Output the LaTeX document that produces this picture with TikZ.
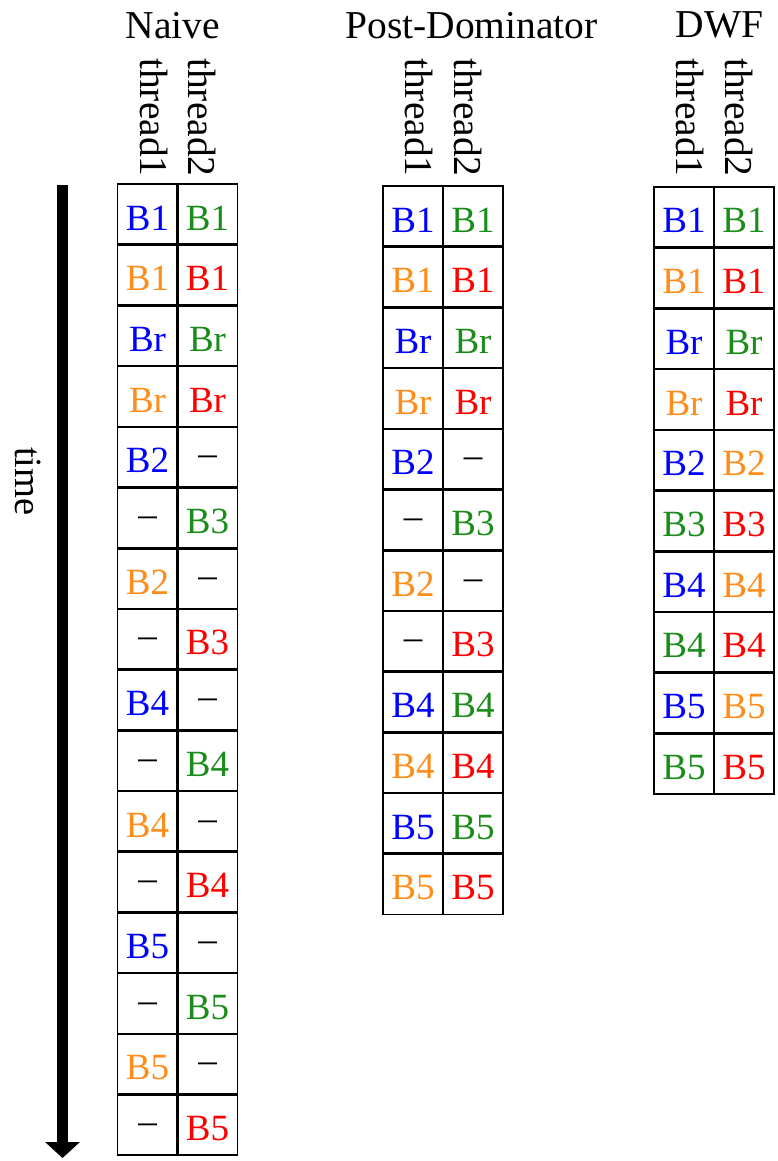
\documentclass[tikz,border=0pt]{standalone}
\usepackage{fontspec}
\setmainfont{Liberation Serif}
\usetikzlibrary{arrows.meta}
\definecolor{tblue}{RGB}{0,0,255}
\definecolor{tgreen}{RGB}{25,140,25}
\definecolor{torange}{RGB}{255,140,25}
\definecolor{tred}{RGB}{255,0,0}
\definecolor{tblack}{RGB}{0,0,0}
\newcommand\rowh{60.7}
% #1 name, #2 x0, #3 y0, #4 number of rows, #5 list
\newcommand\mytable[5]{%
  \foreach [count=\i] \ca/\ta/\cc/\tb in {#5} {
    \ifx\ta\dashmark
      \node[dashtxt] (#1-\i-1) at (#2+30, #3+\i*\rowh-\rowh+39) {\textendash};
    \else
      \node[celltxt, text=\ca] (#1-\i-1) at (#2+30, #3+\i*\rowh-\rowh+46) {\ta};
    \fi
    \ifx\tb\dashmark
      \node[dashtxt] (#1-\i-2) at (#2+90, #3+\i*\rowh-\rowh+39) {\textendash};
    \else
      \node[celltxt, text=\cc] (#1-\i-2) at (#2+90, #3+\i*\rowh-\rowh+46) {\tb};
    \fi
  }
  \pgfmathsetmacro\nlast{#4-1}
  \foreach \k in {1,...,\nlast} {
    \draw[gridline] (#2, #3+\k*\rowh) -- (#2+120, #3+\k*\rowh);
  }
  \draw[gridline] (#2+60, #3) -- (#2+60, #3+#4*\rowh);
  \draw[frameline] (#2, #3) rectangle (#2+120, #3+#4*\rowh);
}
\def\dashmark{-}
\begin{document}
\begin{tikzpicture}[x=1pt, y=-1pt, font=\fontsize{37}{44}\selectfont,
  celltxt/.style={anchor=base, inner sep=0pt},
  dashtxt/.style={anchor=base, inner sep=0pt, text=tblack},
  hdr/.style={anchor=base, inner sep=0pt, font=\fontsize{39.5}{46}\selectfont},
  thr/.style={rotate=-90, anchor=base west, inner sep=0pt, font=\fontsize{39.5}{46}\selectfont},
  gridline/.style={line width=2.6pt},
  frameline/.style={line width=1.8pt},
  timearrow/.style={line width=11pt, -{Triangle[width=34pt,length=16pt]}}]
\useasboundingbox (0,0) rectangle (778,1161);

% time arrow
\coordinate (tstart) at (62.5,185);
\coordinate (tend) at (62.5,1158);
\draw[timearrow] (tstart) -- (tend);
\node[thr, font=\fontsize{38.5}{46}\selectfont] (time) at (16,447) {time};

% headers
\node[hdr] (hnaive) at (173,39) {Naive};
\node[hdr] (hpd) at (471.5,39) {Post-Dominator};
\node[hdr] (hdwf) at (719.5,38) {DWF};

\node[thr] (n-t1) at (140,58) {thread1};
\node[thr] (n-t2) at (188.5,58) {thread2};
\node[thr] (p-t1) at (405.5,58) {thread1};
\node[thr] (p-t2) at (454,58) {thread2};
\node[thr] (d-t1) at (676.5,58) {thread1};
\node[thr] (d-t2) at (725,58) {thread2};

\mytable{naive}{117.5}{184}{16}{
  tblue/B1/tgreen/B1, torange/B1/tred/B1,
  tblue/Br/tgreen/Br, torange/Br/tred/Br,
  tblue/B2/tblack/-, tblack/-/tgreen/B3,
  torange/B2/tblack/-, tblack/-/tred/B3,
  tblue/B4/tblack/-, tblack/-/tgreen/B4,
  torange/B4/tblack/-, tblack/-/tred/B4,
  tblue/B5/tblack/-, tblack/-/tgreen/B5,
  torange/B5/tblack/-, tblack/-/tred/B5}

\mytable{pd}{383}{186}{12}{
  tblue/B1/tgreen/B1, torange/B1/tred/B1,
  tblue/Br/tgreen/Br, torange/Br/tred/Br,
  tblue/B2/tblack/-, tblack/-/tgreen/B3,
  torange/B2/tblack/-, tblack/-/tred/B3,
  tblue/B4/tgreen/B4, torange/B4/tred/B4,
  tblue/B5/tgreen/B5, torange/B5/tred/B5}

\mytable{dwf}{654}{187}{10}{
  tblue/B1/tgreen/B1, torange/B1/tred/B1,
  tblue/Br/tgreen/Br, torange/Br/tred/Br,
  tblue/B2/torange/B2, tgreen/B3/tred/B3,
  tblue/B4/torange/B4, tgreen/B4/tred/B4,
  tblue/B5/torange/B5, tgreen/B5/tred/B5}
\end{tikzpicture}
\end{document}
